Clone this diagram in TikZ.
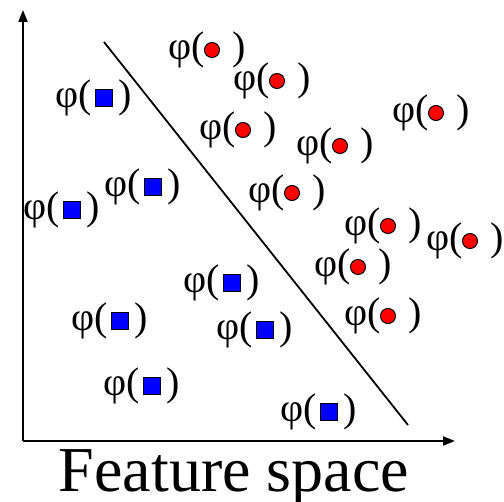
\documentclass[tikz,border=0pt]{standalone}
\usepackage{fontspec}
\setmainfont{Liberation Serif}
\usepackage{tikz}
\usetikzlibrary{
    arrows.meta,
    positioning
}
\tikzset{
  axis/.style    = {-{Triangle[length=12pt, width=9pt]}, line width=2pt},
  sepline/.style = {line width=1.8pt},
  redpt/.style   = {circle, draw, line width=1pt, fill=red,
                    minimum size=15pt, inner sep=0pt},
  bluept/.style  = {rectangle, draw, line width=1pt, fill=blue,
                    minimum size=17pt, inner sep=0pt},
  phiopen/.style = {anchor=east, inner sep=0pt, font=\fontsize{40}{46}\selectfont},
  phiclose/.style= {anchor=west, inner sep=0pt, font=\fontsize{40}{46}\selectfont}
}

\begin{document}
\begin{tikzpicture}[x=1pt, y=-1pt]
    \useasboundingbox (0,0) rectangle (504,502);

    % axes
    \coordinate (o) at (23,441);
    \coordinate (ytop) at (23,10);
    \coordinate (xend) at (455,441);
    \draw[axis] (o) -- (ytop);
    \draw[axis] (o) -- (xend);

    % separating line
    \coordinate (s1) at (104,42);
    \coordinate (s2) at (408,425);
    \draw[sepline] (s1) -- (s2);

    % red class
    \foreach \x/\y [count=\i] in {212/50, 277/81, 436/113, 243/130, 340/146,
                                  292/193, 388/226, 470/241, 358/267, 388/316}{
      \node[redpt] (r\i) at (\x,\y) {};
      \node[phiopen, xshift=1pt] (ro\i) at (r\i.west) {φ(};
      \node[phiclose, xshift=12pt] (rc\i) at (r\i.east) {)};
    }

    % blue class
    \foreach \x/\y [count=\i] in {104/98, 153/187, 72/210, 232/283,
                                  120/321, 265/330, 152/386, 329/412}{
      \node[bluept] (b\i) at (\x,\y) {};
      \node[phiopen, xshift=-2.5pt] (bo\i) at (b\i.west) {φ(};
      \node[phiclose, xshift=5pt] (bc\i) at (b\i.east) {)};
    }

    \node[anchor=base, inner sep=0pt, font=\fontsize{64}{70}\selectfont] (title) at (234,492) {Feature space};
\end{tikzpicture}
\end{document}
